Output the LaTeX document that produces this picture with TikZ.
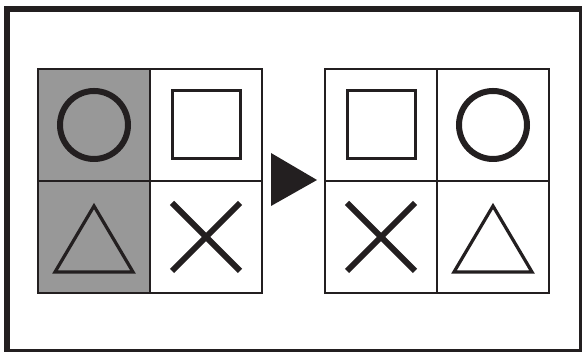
\documentclass[tikz,border=0pt]{standalone}
\usepackage{tikz}
\usetikzlibrary{calc}
\definecolor{InkBlack}{RGB}{35, 31, 32}
\definecolor{CellGray}{RGB}{152, 152, 152}

\begin{document}
\begin{tikzpicture}[x=1pt, y=1pt,
            cell/.style={draw=InkBlack, line width=2.2pt, minimum size=112pt, inner sep=0pt, outer sep=0pt},
            shaded/.style={fill=CellGray},
            ring/.style={draw=InkBlack, line width=6pt},
            boxsym/.style={draw=InkBlack, line width=3pt},
            trisym/.style={draw=InkBlack, line width=3.2pt, line join=miter},
            crosssym/.style={draw=InkBlack, line width=6pt}
        ]
        \useasboundingbox (0,0) rectangle (582,352);

        % The Frame
        \draw[InkBlack, line width=6.5pt] (7,0) rectangle (582,343);

        % Left grid
        \node[cell, shaded] (a1) at (94,227) {};
        \node[cell] (a2) at (206,227) {};
        \node[cell, shaded] (a3) at (94,115) {};
        \node[cell] (a4) at (206,115) {};

        % Right grid
        \node[cell] (b1) at (381,227) {};
        \node[cell] (b2) at (493,227) {};
        \node[cell] (b3) at (381,115) {};
        \node[cell] (b4) at (493,115) {};

        % Symbols
        \draw[ring] (a1.center) circle (34);
        \draw[boxsym] ($(a2.center)+(-34,-34)$) rectangle ($(a2.center)+(34,34)$);
        \draw[trisym] ($(a3.center)+(0,31)$) -- ($(a3.center)+(39,-35)$) -- ($(a3.center)+(-39,-35)$) -- cycle;
        \draw[crosssym] ($(a4.center)+(-34,34)$) -- ($(a4.center)+(34,-34)$);
        \draw[crosssym] ($(a4.center)+(-34,-34)$) -- ($(a4.center)+(34,34)$);

        \draw[boxsym] ($(b1.center)+(-34,-34)$) rectangle ($(b1.center)+(34,34)$);
        \draw[ring] (b2.center) circle (34);
        \draw[crosssym] ($(b3.center)+(-34,34)$) -- ($(b3.center)+(34,-34)$);
        \draw[crosssym] ($(b3.center)+(-34,-34)$) -- ($(b3.center)+(34,34)$);
        \draw[trisym] ($(b4.center)+(0,31)$) -- ($(b4.center)+(39,-35)$) -- ($(b4.center)+(-39,-35)$) -- cycle;

        % Arrow
        \fill[InkBlack] (271,199) -- (317,172) -- (271,146) -- cycle;

        \end{tikzpicture}
\end{document}
